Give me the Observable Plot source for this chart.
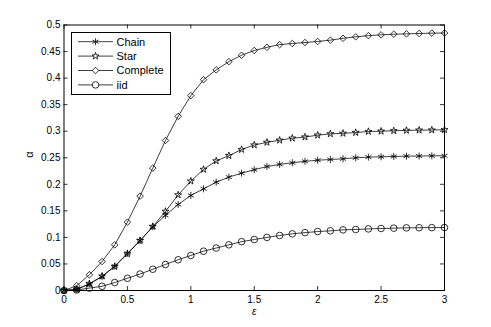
<!DOCTYPE html>
<html><head><meta charset="utf-8">
<script src="https://cdn.jsdelivr.net/npm/d3@7"></script>
<script src="https://cdn.jsdelivr.net/npm/@observablehq/plot@0.6"></script>
<style>
body{margin:0;background:#fff}
#wrap{position:relative;width:491px;height:327px}
#legend{position:absolute;left:0;top:0}
</style>
</head><body><div id="wrap"></div>
<script>
const eps = [0,0.1,0.2,0.3,0.4,0.5,0.6,0.7,0.8,0.9,1.0,1.1,1.2,1.3,1.4,1.5,1.6,1.7,1.8,1.9,2.0,2.1,2.2,2.3,2.4,2.5,2.6,2.7,2.8,2.9,3.0];
const chain = [0,0.002,0.0125,0.026,0.046,0.070,0.094,0.120,0.1415,0.162,0.179,0.1915,0.204,0.2135,0.221,0.2275,0.2335,0.2375,0.2405,0.2433,0.2453,0.2467,0.248,0.2499,0.2512,0.2518,0.2524,0.253,0.2532,0.2536,0.2538];
const star = [0,0.002,0.0125,0.027,0.045,0.069,0.094,0.1205,0.149,0.180,0.206,0.228,0.244,0.254,0.2655,0.274,0.279,0.283,0.2868,0.289,0.2925,0.295,0.296,0.2975,0.2994,0.300,0.3008,0.3015,0.302,0.3022,0.3027];
const complete = [0,0.009,0.0296,0.0546,0.086,0.1287,0.1777,0.2305,0.2825,0.328,0.367,0.397,0.4155,0.431,0.443,0.452,0.458,0.463,0.4652,0.467,0.469,0.4714,0.475,0.4777,0.480,0.4815,0.4827,0.4833,0.484,0.4846,0.485];
const iid = [0,0.001,0.0045,0.008,0.015,0.023,0.031,0.040,0.049,0.0578,0.066,0.074,0.080,0.086,0.092,0.096,0.100,0.1036,0.1067,0.109,0.111,0.1124,0.1142,0.1149,0.116,0.1168,0.1174,0.118,0.1182,0.1184,0.1186];
const seriesNames = ["Chain","Star","Complete","iid"];
const seriesSymbols = ["asterisk","star","diamond2","circle"];
const xTicks = [0,0.5,1,1.5,2,2.5,3];
const xTickLabels = ["0","0.5","1","1.5","2","2.5","3"];
const yTicks = [0,0.05,0.1,0.15,0.2,0.25,0.3,0.35,0.4,0.45,0.5];
const yTickLabels = ["0","0.05","0.1","0.15","0.2","0.25","0.3","0.35","0.4","0.45","0.5"];
const xLabel = "ε", yLabel = "α";

const W = 491, H = 327, mL = 63.5, mR = 47, mT = 24.5, mB = 37;
const tickLen = 4;
const xPer = (W - mL - mR) / 3, yPer = (H - mT - mB) / 0.5;
const tx = tickLen / xPer, ty = tickLen / yPer;

const values = [chain, star, complete, iid];
const rows = [];
seriesNames.forEach((s, i) => eps.forEach((e, j) => rows.push({series: s, e, a: values[i][j], sym: seriesSymbols[i]})));
const rVal = {Chain: 3.3, Star: 2.2, Complete: 2.95, iid: 3.3};

const font = "Liberation Sans, Arial, Helvetica, sans-serif";
const plot = Plot.plot({
  width: W, height: H,
  marginLeft: mL, marginRight: mR, marginTop: mT, marginBottom: mB,
  style: {fontFamily: font, fontSize: "10px", background: "white", color: "black"},
  x: {domain: [0, 3], ticks: xTicks, tickFormat: d => xTickLabels[xTicks.indexOf(d)], tickSize: 0, tickPadding: 5.5, label: null},
  y: {domain: [0, 0.5], ticks: yTicks, tickFormat: d => yTickLabels[yTicks.indexOf(d)], tickSize: 0, tickPadding: 3.5, label: null},
  symbol: {domain: seriesNames, range: seriesSymbols},
  marks: [
    Plot.ruleX(xTicks, {x: d => d, y1: 0, y2: ty, stroke: "black", strokeWidth: 0.8}),
    Plot.ruleX(xTicks, {x: d => d, y1: 0.5, y2: 0.5 - ty, stroke: "black", strokeWidth: 0.8}),
    Plot.ruleY(yTicks, {y: d => d, x1: 0, x2: tx, stroke: "black", strokeWidth: 0.8}),
    Plot.ruleY(yTicks, {y: d => d, x1: 3, x2: 3 - tx, stroke: "black", strokeWidth: 0.8}),
    Plot.line(rows, {x: "e", y: "a", z: "series", stroke: "black", strokeWidth: 0.75}),
    ...seriesNames.map(s => Plot.dot(rows.filter(d => d.series === s), {x: "e", y: "a", symbol: "series", r: rVal[s], stroke: "black", fill: "none", strokeWidth: 0.8})),
    Plot.frame({stroke: "black", strokeWidth: 1}),
    Plot.text([xLabel], {frameAnchor: "bottom", dy: 21, text: d => d, fontSize: 10, fontStyle: "italic", lineAnchor: "middle"}),
    Plot.text([yLabel], {frameAnchor: "left", dx: -35, text: d => d, fontSize: 11, rotate: -90, lineAnchor: "middle"})
  ]
});
document.getElementById("wrap").appendChild(plot);

// legend overlay
const lg = d3.select("#wrap").append("svg").attr("id", "legend").attr("width", W).attr("height", H);
lg.append("rect").attr("x", 71.5).attr("y", 32.5).attr("width", 99).attr("height", 62)
  .attr("fill", "white").attr("stroke", "black").attr("stroke-width", 1);
const sizes = {Chain: Math.PI*3.3*3.3, Star: Math.PI*2.2*2.2, Complete: Math.PI*2.95*2.95, iid: Math.PI*3.3*3.3};
const d3sym = {asterisk: d3.symbolAsterisk, star: d3.symbolStar, diamond2: d3.symbolDiamond2, circle: d3.symbolCircle};
seriesNames.forEach((s, i) => {
  const y = 41.7 + i * 14.4;
  lg.append("line").attr("x1", 78).attr("x2", 113).attr("y1", y).attr("y2", y).attr("stroke", "black").attr("stroke-width", 0.75);
  lg.append("path").attr("transform", `translate(95.5,${y})`).attr("d", d3.symbol(d3sym[seriesSymbols[i]], sizes[s])())
    .attr("fill", "white").attr("stroke", "black").attr("stroke-width", 0.8);
  lg.append("text").attr("x", 116.5).attr("y", y).attr("dy", "0.36em").attr("font-family", font).attr("font-size", "11px").text(s);
});
</script>
</body></html>
